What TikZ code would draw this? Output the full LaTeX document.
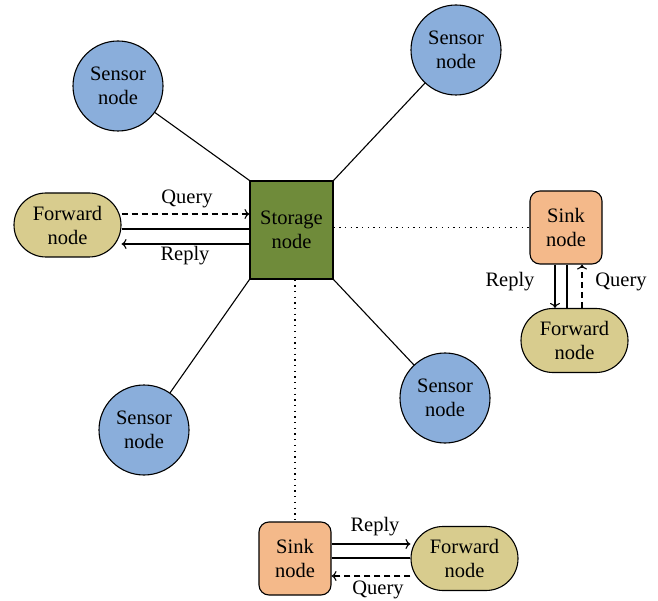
\documentclass[tikz,border=0pt]{standalone}
\usepackage{fontspec}
\setmainfont{Liberation Serif}
\usetikzlibrary{shapes.misc,arrows.meta}
\definecolor{sensorblue}{HTML}{8AAEDB}
\definecolor{storagegreen}{HTML}{6F8B3A}
\definecolor{fwdyellow}{HTML}{D8CC8E}
\definecolor{sinkorange}{HTML}{F4B98A}
\tikzset{
  txt/.style={font=\fontsize{20.5}{24}\selectfont, align=center},
  sensor/.style={txt, circle, draw, fill=sensorblue, minimum size=90pt, inner sep=0pt, line width=1.1pt},
  storage/.style={txt, rectangle, draw, fill=storagegreen, minimum width=83pt, minimum height=98pt, inner sep=0pt, line width=1.1pt},
  fwd/.style={txt, rounded rectangle, draw, fill=fwdyellow, minimum width=107pt, minimum height=64pt, inner sep=0pt, line width=1.1pt},
  sink/.style={txt, rounded corners=10pt, rectangle, draw, fill=sinkorange, minimum width=72pt, minimum height=73pt, inner sep=0pt, line width=1.1pt},
  lbl/.style={txt},
  link/.style={line width=1.1pt},
  arr/.style={line width=1.1pt, -{To[length=5pt,width=10pt]}},
  darr/.style={line width=1.1pt, dash pattern=on 6pt off 4pt, -{To[length=5pt,width=10pt]}},
  dotl/.style={line width=1.2pt, dash pattern=on 1.3pt off 4.4pt},
}
\begin{document}
\begin{tikzpicture}[x=1pt,y=-1pt]
\useasboundingbox (0,0) rectangle (658,601);
% nodes
\node[storage] (st) at (291.5,230) {Storage\\node};
\node[sensor] (s1) at (118,86) {Sensor\\node};
\node[sensor] (s2) at (456,50) {Sensor\\node};
\node[sensor] (s3) at (144,430) {Sensor\\node};
\node[sensor] (s4) at (445,398) {Sensor\\node};
\node[fwd] (fl) at (67.5,225) {Forward\\node};
\node[sink] (sr) at (566,227.5) {Sink\\node};
\node[fwd] (fr) at (574.5,340.5) {Forward\\node};
\node[sink] (sb) at (295,558.5) {Sink\\node};
\node[fwd] (fb) at (464.5,558.5) {Forward\\node};
% sensor links
\draw[link] (s1) -- (st.north west);
\draw[link] (s2) -- (st.north east);
\draw[link] (s3) -- (st.south west);
\draw[link] (s4) -- (st.south east);
% left pair
\draw[darr] ([yshift=11pt]fl.east) -- ([yshift=11pt]fl.east -| st.west);
\draw[link] ([yshift=-4pt]fl.east) -- ([yshift=-4pt]fl.east -| st.west);
\draw[arr] ([yshift=-19pt]fl.east -| st.west) -- ([yshift=-19pt]fl.east);
\node[lbl] (q1) at (187,199) {Query};
\node[lbl] (r1) at (185,256) {Reply};
% right pair
\draw[dotl] (st.east |- sr.west) -- (sr.west);
\draw[arr] ([xshift=-11pt]sr.south) -- ([xshift=-11pt]sr.south |- fr.north);
\draw[link] ([xshift=1pt]sr.south) -- ([xshift=1pt]sr.south |- fr.north);
\draw[darr] ([xshift=16pt]sr.south |- fr.north) -- ([xshift=16pt]sr.south);
\node[lbl] (r2) at (510,282) {Reply};
\node[lbl] (q2) at (621,282) {Query};
% bottom pair
\draw[dotl] (sb.north |- st.south) -- (sb.north);
\draw[arr] ([yshift=14.5pt]sb.east) -- ([yshift=14.5pt]sb.east -| fb.west);
\draw[link] ([yshift=0.5pt]sb.east) -- ([yshift=0.5pt]sb.east -| fb.west);
\draw[darr] ([yshift=-17.5pt]sb.east -| fb.west) -- ([yshift=-17.5pt]sb.east);
\node[lbl] (r3) at (375,527) {Reply};
\node[lbl] (q3) at (378,590) {Query};
\end{tikzpicture}
\end{document}
